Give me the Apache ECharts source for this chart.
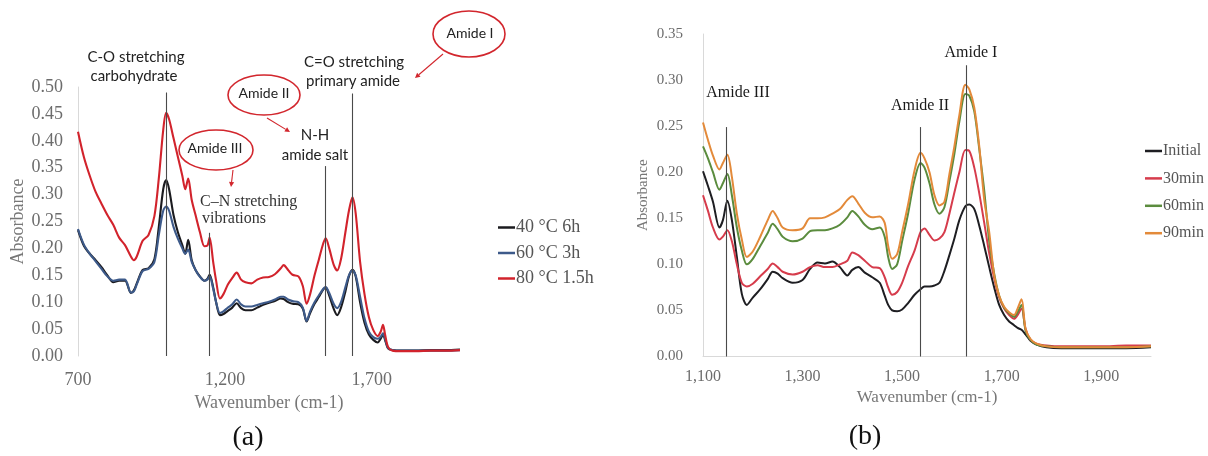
<!DOCTYPE html>
<html><head><meta charset="utf-8">
<script src="https://cdn.jsdelivr.net/npm/echarts@6/dist/echarts.min.js"></script>
<style>html,body{margin:0;padding:0;background:#fff}#c{width:1208px;height:456px}</style>
</head><body><div id="c"></div>
<script>
// ---------- Panel (a) data ----------
const wnA = [700,720,740,760,780,800,820,840,860,880,
  890,900,920,940,960,975,990,1000,1010,1025,
  1040,1055,1065,1075,1087,1100,1115,1130,1140,1148,
  1160,1170,1183,1195,1210,1225,1240,1255,1270,1290,
  1310,1330,1350,1370,1390,1400,1415,1430,1450,1465,
  1478,1490,1505,1520,1535,1543,1555,1570,1582,1595,
  1610,1622,1634,1645,1660,1675,1690,1705,1720,1730,
  1738,1745,1755,1770,1800,1850,1900,1950,2000];
const a40 = [0.234,0.205,0.19,0.178,0.165,0.15,0.137,0.14,0.14,0.117,
  0.122,0.135,0.16,0.163,0.18,0.24,0.31,0.327,0.31,0.262,
  0.23,0.206,0.19,0.216,0.178,0.16,0.148,0.14,0.143,0.151,
  0.128,0.1,0.076,0.078,0.084,0.09,0.098,0.089,0.085,0.085,
  0.09,0.095,0.099,0.102,0.107,0.106,0.1,0.097,0.096,0.088,
  0.064,0.08,0.097,0.11,0.124,0.127,0.112,0.088,0.076,0.09,
  0.12,0.148,0.16,0.148,0.1,0.062,0.04,0.03,0.025,0.032,
  0.04,0.03,0.014,0.011,0.01,0.01,0.011,0.011,0.012];
const a60 = [0.236,0.207,0.19,0.176,0.162,0.148,0.14,0.142,0.142,0.118,
  0.12,0.133,0.158,0.162,0.175,0.225,0.27,0.278,0.27,0.24,
  0.218,0.2,0.19,0.198,0.175,0.16,0.147,0.14,0.142,0.148,
  0.125,0.1,0.08,0.083,0.09,0.096,0.105,0.096,0.092,0.092,
  0.095,0.098,0.101,0.105,0.11,0.11,0.105,0.102,0.1,0.09,
  0.065,0.083,0.1,0.113,0.125,0.128,0.117,0.097,0.089,0.1,
  0.128,0.15,0.159,0.15,0.11,0.07,0.045,0.035,0.032,0.036,
  0.042,0.032,0.015,0.011,0.01,0.01,0.01,0.01,0.011];
const a80 = [0.417,0.37,0.335,0.305,0.283,0.262,0.244,0.22,0.206,0.185,
  0.178,0.185,0.214,0.225,0.26,0.33,0.42,0.452,0.44,0.405,
  0.37,0.335,0.31,0.33,0.29,0.262,0.23,0.204,0.205,0.22,
  0.175,0.14,0.107,0.115,0.133,0.145,0.155,0.142,0.137,0.135,
  0.142,0.146,0.147,0.152,0.163,0.169,0.16,0.151,0.148,0.13,
  0.097,0.115,0.15,0.18,0.21,0.219,0.2,0.17,0.159,0.18,
  0.23,0.27,0.295,0.265,0.175,0.115,0.072,0.048,0.037,0.045,
  0.058,0.04,0.017,0.01,0.009,0.009,0.01,0.01,0.011];
const namesA = ['40 °C 6h','60 °C 3h','80 °C 1.5h'];
const colorsA = ['#1b1b1f','#3d5a8a','#d2232c'];
const xTicksA = [700,1200,1700];
const peaksA = [1000,1147,1543,1634];
const peakTopsA = [0.49,0.229,0.353,0.488];

// ---------- Panel (b) data ----------
const wnB = [1100,1110,1120,1133,1140,1149,1158,1168,1178,1188,
  1200,1215,1230,1240,1250,1260,1280,1300,1315,1330,
  1345,1360,1375,1390,1400,1412,1425,1440,1455,1465,
  1472,1480,1490,1500,1512,1525,1537,1545,1555,1565,
  1575,1585,1595,1605,1615,1627,1635,1645,1655,1665,
  1675,1685,1695,1705,1715,1725,1732,1740,1748,1758,
  1770,1790,1820,1860,1900,1950,2000];
const bInitial = [0.201,0.185,0.168,0.14,0.148,0.169,0.148,0.108,0.068,0.056,
  0.064,0.073,0.084,0.092,0.09,0.085,0.08,0.083,0.095,0.102,
  0.101,0.103,0.097,0.088,0.094,0.097,0.091,0.086,0.08,0.066,
  0.056,0.05,0.049,0.051,0.058,0.067,0.073,0.076,0.076,0.077,
  0.08,0.093,0.11,0.128,0.148,0.163,0.165,0.16,0.142,0.12,
  0.097,0.075,0.056,0.045,0.038,0.034,0.031,0.029,0.024,0.017,
  0.013,0.01,0.009,0.009,0.009,0.009,0.01];
const b30 = [0.175,0.158,0.14,0.127,0.13,0.137,0.125,0.1,0.08,0.076,
  0.079,0.087,0.095,0.101,0.097,0.092,0.089,0.092,0.097,0.099,
  0.097,0.097,0.1,0.104,0.113,0.11,0.104,0.097,0.096,0.086,
  0.075,0.067,0.07,0.08,0.098,0.115,0.135,0.139,0.132,0.126,
  0.128,0.135,0.155,0.178,0.2,0.224,0.223,0.205,0.177,0.145,
  0.112,0.085,0.064,0.052,0.045,0.041,0.045,0.052,0.03,0.018,
  0.014,0.012,0.011,0.011,0.011,0.012,0.012];
const b60 = [0.228,0.215,0.2,0.181,0.188,0.198,0.175,0.14,0.115,0.1,
  0.106,0.12,0.134,0.144,0.138,0.13,0.125,0.128,0.136,0.137,
  0.137,0.139,0.143,0.151,0.158,0.152,0.143,0.138,0.14,0.13,
  0.108,0.095,0.1,0.125,0.155,0.192,0.21,0.205,0.188,0.165,
  0.155,0.162,0.19,0.22,0.255,0.285,0.283,0.266,0.225,0.18,
  0.125,0.09,0.066,0.053,0.047,0.043,0.048,0.056,0.028,0.018,
  0.013,0.011,0.01,0.01,0.01,0.01,0.011];
const b90 = [0.254,0.235,0.218,0.203,0.21,0.219,0.195,0.155,0.127,0.108,
  0.114,0.13,0.148,0.158,0.15,0.14,0.137,0.139,0.15,0.15,
  0.151,0.155,0.16,0.17,0.174,0.166,0.156,0.151,0.152,0.145,
  0.12,0.106,0.111,0.135,0.165,0.202,0.221,0.215,0.2,0.175,
  0.164,0.168,0.198,0.228,0.262,0.295,0.29,0.27,0.228,0.17,
  0.135,0.088,0.066,0.054,0.048,0.045,0.052,0.062,0.03,0.019,
  0.014,0.011,0.01,0.01,0.01,0.01,0.011];
const namesB = ['Initial','30min','60min','90min'];
const colorsB = ['#1e1e22','#d63c4c','#5b8c3e','#e38a3a'];
const xTicksB = [1100,1300,1500,1700,1900];
const peaksB = [1147,1537,1628];
const peakTopsB = [0.249,0.249,0.316];

// ---------- helpers ----------
const zip = (xs, ys) => ys.map((y, i) => [xs[i], y]);
const comma = v => String(Math.round(v)).replace(/\B(?=(\d{3})+(?!\d))/g, ',');
const SERIF = 'Liberation Serif';
const SANS = 'Lato';
const RED = '#d2262d';

function vlines(xs, tops) {
  return {
    silent: true, symbol: ['none', 'none'], label: { show: false }, animation: false,
    emphasis: { disabled: true },
    lineStyle: { color: '#4a4a4a', width: 1.1, type: 'solid' },
    data: xs.map((x, i) => [{ coord: [x, 0] }, { coord: [x, tops[i]] }])
  };
}
function txt(x, y, text, font, fill, align) {
  return { type: 'text', x, y, z: 50, silent: true,
    style: { text, font, fill: fill || '#222', align: align || 'center', verticalAlign: 'middle' } };
}
function ell(cx, cy, rx, ry) {
  return { type: 'ellipse', z: 50, silent: true, shape: { cx, cy, rx, ry },
    style: { fill: 'none', stroke: RED, lineWidth: 1.6 } };
}
function arrow(x1, y1, x2, y2) {
  const a = Math.atan2(y2 - y1, x2 - x1), L = 5, W = 2.6;
  const bx = x2 - L * Math.cos(a), by = y2 - L * Math.sin(a);
  const px = -Math.sin(a) * W, py = Math.cos(a) * W;
  return [
    { type: 'line', z: 50, silent: true, shape: { x1, y1, x2: bx, y2: by }, style: { stroke: RED, lineWidth: 1.1 } },
    { type: 'polygon', z: 50, silent: true, shape: { points: [[x2, y2], [bx + px, by + py], [bx - px, by - py]] }, style: { fill: RED } }
  ];
}

const axisGrey = '#d9d9d9';
const labGrey = '#6c6c6c';

const seriesA = [a40, a60, a80].map((d, i) => ({
  name: namesA[i], type: 'line', xAxisIndex: 0, yAxisIndex: 0,
  data: zip(wnA, d), showSymbol: false, smooth: 0.3, animation: false,
  lineStyle: { width: 2.1, color: colorsA[i] }, itemStyle: { color: colorsA[i] },
  emphasis: { disabled: true },
  markLine: i === 0 ? vlines(peaksA, peakTopsA) : undefined
}));
const seriesB = [bInitial, b30, b60, b90].map((d, i) => ({
  name: namesB[i], type: 'line', xAxisIndex: 1, yAxisIndex: 1,
  data: zip(wnB, d), showSymbol: false, smooth: 0.3, animation: false,
  lineStyle: { width: 2, color: colorsB[i] }, itemStyle: { color: colorsB[i] },
  emphasis: { disabled: true },
  markLine: i === 0 ? vlines(peaksB, peakTopsB) : undefined
}));

const graphics = [
  txt(136, 57, 'C-O stretching', '15px ' + SANS),
  txt(134, 76, 'carbohydrate', '15px ' + SANS),
  ell(469, 34, 36, 23), txt(470, 33, 'Amide I', '14px ' + SANS),
  txt(354, 62, 'C=O stretching', '15px ' + SANS),
  txt(353, 81, 'primary amide', '15px ' + SANS),
  ...arrow(443, 54, 415, 78),
  ell(264, 95, 36, 20), txt(264, 93, 'Amide II', '14px ' + SANS),
  ...arrow(267, 118, 290, 132),
  txt(315, 135, 'N-H', '15px ' + SANS),
  txt(315, 155, 'amide salt', '15px ' + SANS),
  ell(216, 150, 37, 20), txt(215, 148, 'Amide III', '14px ' + SANS),
  ...arrow(233, 170, 231, 187),
  txt(200, 202, 'C–N stretching', '16px ' + SERIF, '#333', 'left'),
  txt(202, 219, 'vibrations', '16px ' + SERIF, '#333', 'left'),
  txt(738, 93, 'Amide III', '16px ' + SERIF, '#1a1a1a'),
  txt(920, 106, 'Amide II', '16px ' + SERIF, '#1a1a1a'),
  txt(971, 53, 'Amide I', '16px ' + SERIF, '#1a1a1a'),
  txt(248, 438, '(a)', '28px ' + SERIF, '#111'),
  txt(865, 437, '(b)', '28px ' + SERIF, '#111')
];

const chart = echarts.init(document.getElementById('c'), null, { renderer: 'canvas' });
chart.setOption({
  backgroundColor: '#fff',
  animation: false,
  grid: [
    { left: 78, top: 87, right: 1208 - 460, bottom: 100 },
    { left: 703, top: 34, right: 1208 - 1151, bottom: 99.5 }
  ],
  xAxis: [
    { gridIndex: 0, type: 'value', min: 700, max: 2000,
      axisLine: { show: false }, axisTick: { show: false }, splitLine: { show: false },
      axisLabel: { customValues: xTicksA, formatter: comma, fontFamily: SERIF, fontSize: 18, color: labGrey, margin: 15 },
      name: 'Wavenumber (cm-1)', nameLocation: 'middle', nameGap: 29,
      nameTextStyle: { fontFamily: SERIF, fontSize: 18, color: '#777' } },
    { gridIndex: 1, type: 'value', min: 1100, max: 2000,
      axisLine: { show: true, lineStyle: { color: axisGrey, width: 1 } }, axisTick: { show: false }, splitLine: { show: false },
      axisLabel: { customValues: xTicksB, formatter: comma, fontFamily: SERIF, fontSize: 16, color: labGrey, margin: 12 },
      name: 'Wavenumber (cm-1)', nameLocation: 'middle', nameGap: 32,
      nameTextStyle: { fontFamily: SERIF, fontSize: 17, color: '#777' } }
  ],
  yAxis: [
    { gridIndex: 0, type: 'value', min: 0, max: 0.5, interval: 0.05,
      axisLine: { show: true, lineStyle: { color: axisGrey, width: 1 } }, axisTick: { show: false }, splitLine: { show: false },
      axisLabel: { formatter: v => v.toFixed(2), fontFamily: SERIF, fontSize: 18, color: labGrey, margin: 15 },
      name: 'Absorbance', nameLocation: 'middle', nameGap: 49,
      nameTextStyle: { fontFamily: SERIF, fontSize: 18, color: '#777' } },
    { gridIndex: 1, type: 'value', min: 0, max: 0.35, interval: 0.05,
      axisLine: { show: true, lineStyle: { color: axisGrey, width: 1 } }, axisTick: { show: false }, splitLine: { show: false },
      axisLabel: { formatter: v => v.toFixed(2), fontFamily: SERIF, fontSize: 15, color: labGrey, margin: 20 },
      name: 'Absorbance', nameLocation: 'middle', nameGap: 52,
      nameTextStyle: { fontFamily: SERIF, fontSize: 15, color: '#777' } }
  ],
  legend: [
    { data: namesA, orient: 'vertical', left: 493, top: 213.5, itemWidth: 17, itemHeight: 2.5, icon: 'rect',
      itemGap: 7.5, selectedMode: false,
      textStyle: { fontFamily: SERIF, fontSize: 18, lineHeight: 18, color: '#555', padding: [0, 0, 0, -4] } },
    { data: namesB, orient: 'vertical', left: 1140, top: 138, itemWidth: 17, itemHeight: 2.5, icon: 'rect',
      itemGap: 11.4, selectedMode: false,
      textStyle: { fontFamily: SERIF, fontSize: 16, lineHeight: 16, color: '#555', padding: [0, 0, 0, -4] } }
  ],
  series: [...seriesA, ...seriesB],
  graphic: graphics
});
</script>
</body></html>
